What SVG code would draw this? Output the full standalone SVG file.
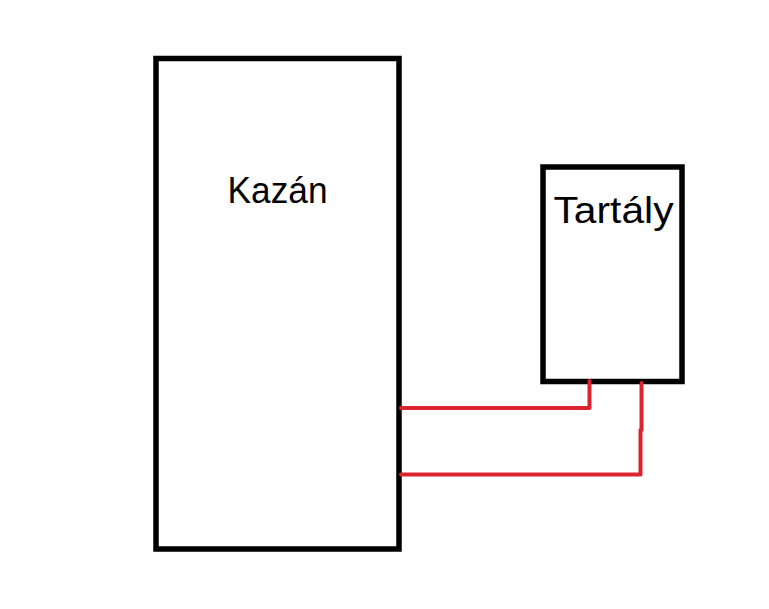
<svg xmlns="http://www.w3.org/2000/svg" width="769" height="609" viewBox="0 0 769 609">
<style>
.box{fill:#fff;stroke:#000;stroke-width:5.5}
.lbl{font-family:"Liberation Sans",Arial,sans-serif;font-size:36px;fill:#000;text-anchor:middle}
.pipe{fill:none;stroke:#dc2430;stroke-width:4;stroke-linejoin:round;stroke-linecap:round}
</style>
<rect width="769" height="609" fill="#fff"/>
<g id="kazan">
<rect class="box" x="156" y="58.5" width="243" height="490.5"/>
<text class="lbl" x="277.5" y="203" textLength="100" lengthAdjust="spacingAndGlyphs">Kazán</text>
</g>
<g id="tartaly">
<rect class="box" x="543" y="167" width="139" height="214.5"/>
<text class="lbl" x="613.5" y="223" textLength="120" lengthAdjust="spacingAndGlyphs">Tartály</text>
</g>
<g id="connectors">
<polyline class="pipe" points="401,408 589.5,408 589.5,381"/>
<polyline class="pipe" points="401,474.5 640.5,474.5 640.5,430 641.5,430 641.5,383"/>
</g>
</svg>
